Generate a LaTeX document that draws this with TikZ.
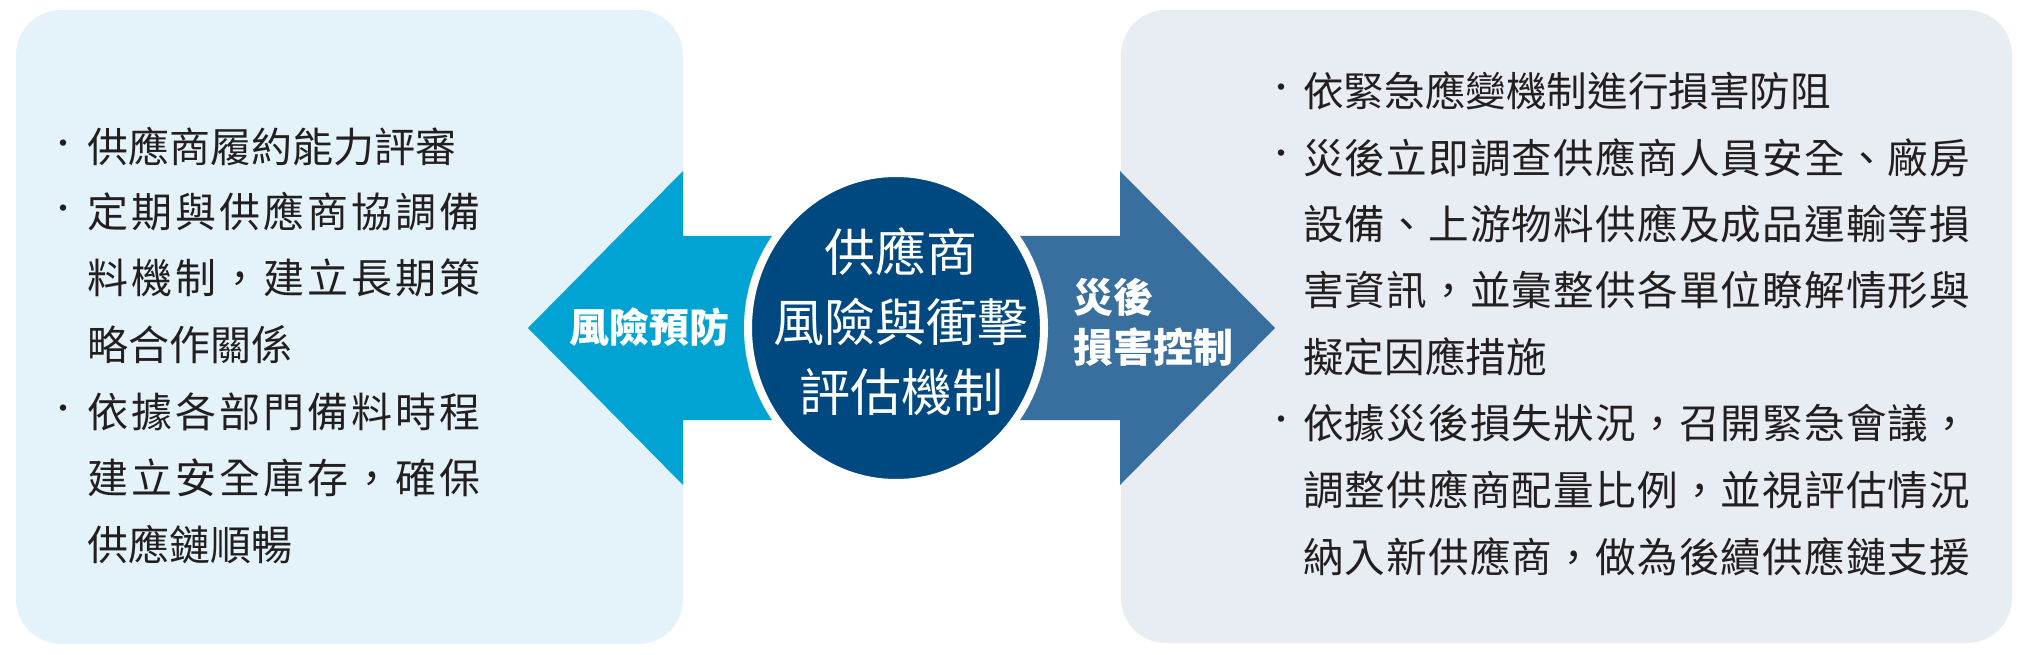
\documentclass[tikz,border=0pt]{standalone}
\usepackage{fontspec}
\setmainfont{Noto Sans CJK TC}
\usetikzlibrary{shapes.geometric}
\definecolor{leftbg}{HTML}{E4F3F9}
\definecolor{rightbg}{HTML}{E8ECF3}
\definecolor{leftarr}{HTML}{00A3D2}
\definecolor{rightarr}{HTML}{386F9E}
\definecolor{hubblue}{HTML}{004980}
\definecolor{bodytext}{HTML}{231F20}
\newcommand{\spreadto}[2]{\hbox to #1{\spreadA#2\relax}}
\def\spreadA#1{#1\spreadB}
\def\spreadB#1{\ifx\relax#1\else\hfil#1\expandafter\spreadB\fi}
\begin{document}
\begin{tikzpicture}[x=1pt,y=-1pt,
  panel/.style={rounded corners=45pt, draw=none},
  ltxt/.style={anchor=west, inner sep=0pt, text=bodytext, font=\fontsize{41}{41}\selectfont},
  rtxt/.style={anchor=west, inner sep=0pt, text=bodytext, font=\fontsize{40.6}{41}\selectfont},
  bul/.style={inner sep=0pt, text=bodytext, font=\fontsize{30}{30}\selectfont},
  arrlabel/.style={inner sep=0pt, text=white, font=\fontsize{40}{50}\selectfont\bfseries}
]
\useasboundingbox (0,0) rectangle (2029,655);
\fill[white] (0,0) rectangle (2029,655);
% panels
\fill[leftbg, panel] (16,10) rectangle (683,644);
\fill[rightbg, panel] (1121,10) rectangle (2012,643);
% arrows
\fill[leftarr] (528,328) -- (683,171) -- (683,236) -- (820,236) -- (820,420) -- (683,420) -- (683,485) -- cycle;
\fill[rightarr] (970,236) -- (1120,236) -- (1120,171) -- (1275,328) -- (1120,485) -- (1120,420) -- (970,420) -- cycle;
% hub
\node[ellipse, fill=hubblue, draw=white, line width=8pt, minimum width=296pt, minimum height=310pt,
      inner sep=0pt] (hub) at (896,328) {};
\node[inner sep=0pt, text=white, align=center, font=\fontsize{51}{70}\selectfont] (hubtext) at (901,322)
  {供應商\\風險與衝擊\\評估機制};
% arrow labels
\node[arrlabel] (prevent) at (649,327) {風險預防};
\node[arrlabel, anchor=west, align=left] (control) at (1073,322) {災後\\損害控制};
% left list
\node[bul] (lb1) at (63,147) {·};
\node[bul] (lb2) at (63,212) {·};
\node[bul] (lb3) at (63,412) {·};
\node[ltxt] (l1) at (87,147) {供應商履約能力評審};
\node[ltxt] (l2) at (87,212) {\spreadto{393pt}{定期與供應商協調備}};
\node[ltxt] (l3) at (87,278) {\spreadto{393pt}{料機制，建立長期策}};
\node[ltxt] (l4) at (87,345) {略合作關係};
\node[ltxt] (l5) at (87,412) {\spreadto{393pt}{依據各部門備料時程}};
\node[ltxt] (l6) at (87,478) {\spreadto{393pt}{建立安全庫存，確保}};
\node[ltxt] (l7) at (87,545) {供應鏈順暢};
% right list
\node[bul] (rb1) at (1281,91) {·};
\node[bul] (rb2) at (1281,157.5) {·};
\node[bul] (rb3) at (1281,423.5) {·};
\node[rtxt] (r1) at (1303,91) {依緊急應變機制進行損害防阻};
\node[rtxt] (r2) at (1303,157.5) {\spreadto{667pt}{災後立即調查供應商人員安全、廠房}};
\node[rtxt] (r3) at (1303,224) {\spreadto{667pt}{設備、上游物料供應及成品運輸等損}};
\node[rtxt] (r4) at (1303,290.5) {\spreadto{667pt}{害資訊，並彙整供各單位瞭解情形與}};
\node[rtxt] (r5) at (1303,357) {擬定因應措施};
\node[rtxt] (r6) at (1303,423.5) {\spreadto{667pt}{依據災後損失狀況，召開緊急會議，}};
\node[rtxt] (r7) at (1303,490) {\spreadto{667pt}{調整供應商配量比例，並視評估情況}};
\node[rtxt] (r8) at (1303,556.5) {\spreadto{667pt}{納入新供應商，做為後續供應鏈支援}};
\end{tikzpicture}
\end{document}
